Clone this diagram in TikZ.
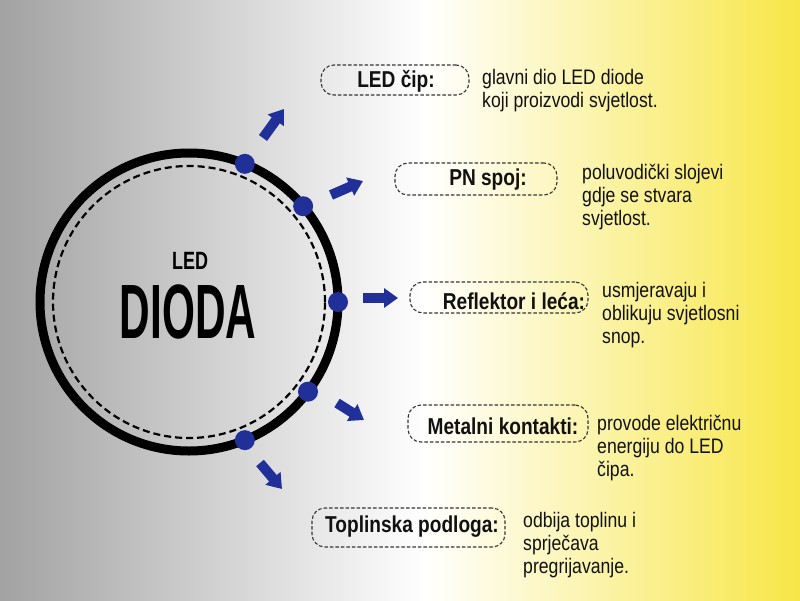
\documentclass[tikz,border=0pt]{standalone}
\usepackage{fontspec}
\setmainfont{Liberation Sans}
\newfontfamily\bigcond[FakeStretch=0.55]{Liberation Sans}
\newfontfamily\ledcond[FakeStretch=0.72]{Liberation Sans}
\newfontfamily\labcond[FakeStretch=0.83]{Liberation Sans}
\newfontfamily\desccond[FakeStretch=0.84]{Liberation Sans}
\usetikzlibrary{arrows.meta,calc}
\definecolor{dotblue}{RGB}{32,48,152}
\definecolor{bggray}{RGB}{162,162,162}
\definecolor{bgyellow}{RGB}{247,230,70}
\definecolor{ink}{RGB}{17,17,17}
\tikzset{
  lbox/.style={draw=ink!85, dash pattern=on 3.5pt off 2pt, line width=1.1pt, rounded corners=13pt, inner sep=0pt},
  ltext/.style={text=ink, font=\labcond\bfseries\fontsize{23}{25}\selectfont, inner sep=0pt},
  dtext/.style={text=ink, font=\desccond\fontsize{21}{23}\selectfont, align=left, anchor=north west, inner sep=0pt},
  dotnode/.style={circle, fill=dotblue, minimum size=20pt, inner sep=0pt},
  barrow/.style={dotblue, line width=10pt, -{Triangle[length=14pt,width=19pt]}}
}
\begin{document}
\begin{tikzpicture}[x=1pt,y=-1pt]
\useasboundingbox (0,0) rectangle (800,600);
\shade[left color=bggray, right color=white] (0,0) rectangle (426,600);
\shade[left color=white, right color=bgyellow] (425,0) rectangle (800,600);

% big circle
\coordinate (C) at (189,302);
\draw[line width=9pt, black] (C) circle (149pt);
\draw[line width=2.2pt, black, dash pattern=on 7pt off 4pt] (C) circle (136pt);

\node[text=black, font=\ledcond\bfseries\fontsize{25}{27}\selectfont, inner sep=0pt] (led) at (190,261) {LED};
\node[text=black, font=\bigcond\bfseries\fontsize{77}{80}\selectfont, inner sep=0pt] (dioda) at (188,312) {DIODA};

% dots
\node[dotnode] (d1) at ($(C)+(-68:149)$) {};
\node[dotnode] (d2) at ($(C)+(-40:149)$) {};
\node[dotnode] (d3) at ($(C)+(0:149)$) {};
\node[dotnode] (d4) at ($(C)+(37:149)$) {};
\node[dotnode] (d5) at ($(C)+(68:149)$) {};

% arrows
\coordinate (t1) at (263,138); \coordinate (h1) at (284,109);
\coordinate (t2) at (331,195); \coordinate (h2) at (363,181);
\coordinate (t3) at (363,298); \coordinate (h3) at (398,298);
\coordinate (t4) at (337,403); \coordinate (h4) at (364,420);
\coordinate (t5) at (260,463); \coordinate (h5) at (282,489);
\draw[barrow] (t1) -- (h1);
\draw[barrow] (t2) -- (h2);
\draw[barrow] (t3) -- (h3);
\draw[barrow] (t4) -- (h4);
\draw[barrow] (t5) -- (h5);

% boxes
\node[lbox, minimum width=148pt, minimum height=30pt] (b1) at (395,80) {};
\node[lbox, minimum width=162pt, minimum height=32pt] (b2) at (476,179) {};
\node[lbox, minimum width=178pt, minimum height=31pt] (b3) at (499,297.5) {};
\node[lbox, minimum width=180pt, minimum height=37pt] (b4) at (498,423.5) {};
\node[lbox, minimum width=193pt, minimum height=39pt] (b5) at (408.5,527.5) {};

\node[ltext] (l1) at (396,81) {LED čip:};
\node[ltext] (l2) at (488,180) {PN spoj:};
\node[ltext] (l3) at (514,301) {Reflektor i leća:};
\node[ltext] (l4) at (503,426) {Metalni kontakti:};
\node[ltext] (l5) at (412,527) {Toplinska podloga:};

% descriptions
\node[dtext] (e1) at (482,69) {glavni dio LED diode\\koji proizvodi svjetlost.};
\node[dtext] (e2) at (582,164) {poluvodički slojevi\\gdje se stvara\\svjetlost.};
\node[dtext] (e3) at (602,282) {usmjeravaju i\\oblikuju svjetlosni\\snop.};
\node[dtext] (e4) at (597,415) {provode električnu\\energiju do LED\\čipa.};
\node[dtext] (e5) at (523,512) {odbija toplinu i\\sprječava\\pregrijavanje.};
\end{tikzpicture}
\end{document}
